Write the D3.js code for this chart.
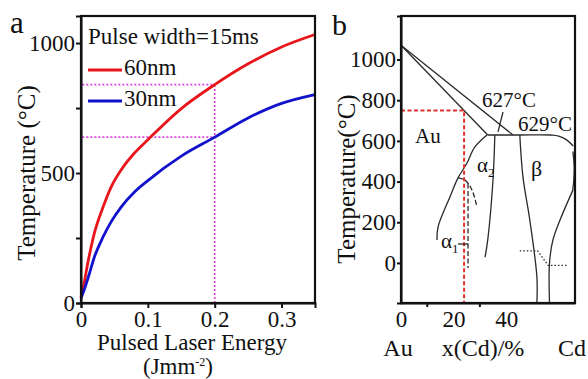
<!DOCTYPE html>
<html>
<head>
<meta charset="utf-8">
<script src="https://cdn.jsdelivr.net/npm/d3@7"></script>
<style>
  body { margin: 0; background: #fff; }
  svg text { font-family: "Liberation Serif", "Times New Roman", serif; fill: #111; }
  .axis path, .axis line { stroke: #111; stroke-width: 2; fill: none; }
  .frame { fill: none; stroke: #111; stroke-width: 2.2; }
  .phase { fill: none; stroke: #2a2a2a; stroke-width: 1.3; }
</style>
</head>
<body>
<svg id="chart" width="588" height="379"></svg>
<script>
// ---- panel a data: calculated temperature vs laser energy
const energy  = [0, 0.003, 0.011, 0.02, 0.033, 0.045, 0.06, 0.08, 0.1, 0.15, 0.2, 0.25, 0.3, 0.35];
const temp60  = [22, 55, 165, 269, 369, 446, 512, 577, 628, 748, 840, 920, 985, 1033];
const temp30  = [18, 38, 100, 177, 254, 312, 369, 427, 471, 565, 638, 712, 768, 802];
const seriesNames = ["60nm", "30nm"];
const markEnergy = 0.2;
const energyTicks = [0, 0.1, 0.2, 0.3];
const tempTicksA = [0, 250, 500, 750, 1000];

// ---- panel b data: Au-Cd phase diagram lines, [x(Cd) %, T °C]
const liquidus   = [[0, 1070], [42.6, 629]];
const solidus    = [[0, 1070], [33, 629]];
const plateau    = [[33, 629], [45, 629], [57, 629], [60, 624], [63, 605], [65.5, 575]];
const rightEdge  = [[65.4, 548], [65.9, 470], [65.7, 400], [65.3, 355]];
const auBoundary = [[32.7, 629], [28.1, 570], [25.1, 491], [21.7, 418], [18.6, 324], [14.1, 177], [13.7, 113]];
const alpha2Beta = [[35.7, 629], [35, 408], [33, 113], [32, 29]];
const betaLeft   = [[45.2, 629], [46.4, 423], [49, 211], [51.7, -69], [51.7, -197]];
const betaRight  = [[56.5, -197], [56.5, 0], [57.8, 113], [60.5, 211], [65.4, 358]];
const alpha1Curve = [[21.7, 418], [24.3, 408], [27, 359], [28.9, 275]];
const alpha1Line  = [[25.5, 390], [25.5, -25]];
const transition  = [[45.2, 59], [52, 59], [56, -12], [63, -12]];
const leader627   = [[38.8, 742], [36.9, 644]];
const markComp = 24;
const markTemp = 750;
const compTicks = [0, 20, 40];
const compMinor = [10, 30];
const tempTicksB = [0, 200, 400, 600, 800, 1000];

const serif = "'Liberation Serif', 'Times New Roman', serif";
const svg = d3.select("#chart");

// d3 axes put a sans-serif font on their group, undo it
function serifAxis(g, size) {
  g.attr("font-family", null).attr("font-size", null);
  g.selectAll("text")
    .style("font-family", serif)
    .style("font-size", size + "px")
    .style("fill", "#111");
}

// =================== panel a ===================
const xA = d3.scaleLinear().domain([0, 0.35]).range([81, 315]);
const yA = d3.scaleLinear().domain([0, 1104]).range([303, 16]);

const lineA = d3.line()
  .x(d => xA(d[0]))
  .y(d => yA(d[1]))
  .curve(d3.curveMonotoneX);

// dotted guide lines at 0.2 J/mm2
const iMark = energy.indexOf(markEnergy);
const guide = svg.append("g")
  .attr("fill", "none")
  .attr("stroke", "#e040e0")
  .attr("stroke-width", 1.6)
  .attr("stroke-dasharray", "2,2");
[temp60[iMark], temp30[iMark]].forEach(t => {
  guide.append("line")
    .attr("x1", xA(0.002)).attr("x2", xA(markEnergy))
    .attr("y1", yA(t)).attr("y2", yA(t));
});
guide.append("line")
  .attr("x1", xA(markEnergy)).attr("x2", xA(markEnergy))
  .attr("y1", yA(0)).attr("y2", yA(temp60[iMark]));

const colors = ["#e8161b", "#1212cc"];
[temp60, temp30].forEach((vals, k) => {
  svg.append("path")
    .attr("d", lineA(energy.map((e, i) => [e, vals[i]])))
    .attr("fill", "none")
    .attr("stroke", colors[k])
    .attr("stroke-width", 2.8);
});

svg.append("rect").attr("class", "frame")
  .attr("x", 81).attr("y", 16).attr("width", 315 - 81).attr("height", 303 - 16);

svg.append("g").attr("class", "axis")
  .attr("transform", "translate(81,0)")
  .call(d3.axisLeft(yA).tickValues(tempTicksA).tickSize(5).tickPadding(1)
    .tickFormat(d => d % 500 === 0 ? d : ""))
  .call(serifAxis, 23);

svg.append("g").attr("class", "axis")
  .attr("transform", "translate(0,303)")
  .call(d3.axisBottom(xA).tickValues(energyTicks).tickSize(5)
    .tickFormat(d => d === 0 ? "0" : d3.format(".1f")(d)))
  .call(serifAxis, 23);

// legend
svg.append("text").attr("x", 88).attr("y", 44)
  .style("font-size", "23px").text("Pulse width=15ms");
seriesNames.forEach((name, k) => {
  const ly = 70 + k * 31;
  svg.append("line")
    .attr("x1", 88).attr("x2", 122).attr("y1", ly).attr("y2", ly)
    .attr("stroke", colors[k]).attr("stroke-width", 2.8);
  svg.append("text").attr("x", 124).attr("y", ly + 5)
    .style("font-size", "23px").text(name);
});

// titles
svg.append("text").attr("x", 192).attr("y", 350)
  .attr("text-anchor", "middle").style("font-size", "23px")
  .text("Pulsed Laser Energy");
const unit = svg.append("text").attr("x", 178).attr("y", 374)
  .attr("text-anchor", "middle").style("font-size", "23px");
unit.append("tspan").text("(Jmm");
unit.append("tspan").attr("dy", -8).style("font-size", "12px").text("-2");
unit.append("tspan").attr("dy", 8).text(")");

svg.append("text")
  .attr("transform", "translate(35,173) rotate(-90)")
  .attr("text-anchor", "middle").style("font-size", "25px")
  .text("Temperature (°C)");

svg.append("text").attr("x", 10).attr("y", 33)
  .style("font-size", "31px").text("a");

// =================== panel b ===================
const xB = d3.scaleLinear().domain([0, 66.2]).range([401, 575]);
const yB = d3.scaleLinear().domain([-197, 1214]).range([303, 16]);

const lineB = d3.line()
  .x(d => xB(d[0]))
  .y(d => yB(d[1]))
  .curve(d3.curveCatmullRom.alpha(0.5));

[liquidus, solidus, plateau, rightEdge, auBoundary, alpha2Beta, betaLeft, betaRight, leader627]
  .forEach(pts => {
    svg.append("path").attr("class", "phase").attr("d", lineB(pts));
  });

svg.append("path").attr("class", "phase").attr("stroke-dasharray", "5,2.5")
  .attr("d", lineB(alpha1Curve));
svg.append("path").attr("class", "phase").attr("stroke-dasharray", "5,2.5")
  .attr("d", lineB(alpha1Line));
svg.append("path").attr("class", "phase").attr("stroke-dasharray", "1.5,2")
  .attr("d", d3.line().x(d => xB(d[0])).y(d => yB(d[1]))(transition));

// red guide at 750 °C
svg.append("path")
  .attr("d", d3.line().x(d => xB(d[0])).y(d => yB(d[1]))(
    [[0, markTemp], [markComp, markTemp], [markComp, -197]]))
  .attr("fill", "none")
  .attr("stroke", "#e0302a")
  .attr("stroke-width", 2)
  .attr("stroke-dasharray", "4,2.5");

svg.append("rect").attr("class", "frame")
  .attr("x", 401).attr("y", 16).attr("width", 575 - 401).attr("height", 303 - 16);

svg.append("g").attr("class", "axis")
  .attr("transform", "translate(401,0)")
  .call(d3.axisLeft(yB).tickValues(tempTicksB).tickSize(4).tickPadding(1)
    .tickFormat(d3.format("d")))
  .call(serifAxis, 23);

const xAxisB = svg.append("g").attr("class", "axis")
  .attr("transform", "translate(0,303)");
xAxisB.call(d3.axisBottom(xB).tickValues(compTicks).tickSize(0).tickPadding(8))
  .call(serifAxis, 23);
xAxisB.selectAll(".minor").data(compMinor).enter().append("line")
  .attr("x1", d => xB(d)).attr("x2", d => xB(d))
  .attr("y1", 0).attr("y2", 4);

// phase labels
svg.append("text").attr("x", 482).attr("y", 107).style("font-size", "21px").text("627°C");
svg.append("text").attr("x", 518).attr("y", 131).style("font-size", "21px").text("629°C");
svg.append("text").attr("x", 415).attr("y", 143).style("font-size", "21px").text("Au");
svg.append("text").attr("x", 531).attr("y", 176).style("font-size", "22px").text("β");
const a2 = svg.append("text").attr("x", 477).attr("y", 172).style("font-size", "21px");
a2.append("tspan").text("α");
a2.append("tspan").attr("dy", 5).style("font-size", "13px").text("2");
const a1 = svg.append("text").attr("x", 441).attr("y", 248).style("font-size", "21px");
a1.append("tspan").text("α");
a1.append("tspan").attr("dy", 5).style("font-size", "13px").text("1");
svg.append("line").attr("class", "phase")
  .attr("x1", 458).attr("x2", 468).attr("y1", 244).attr("y2", 244);

// bottom labels
svg.append("text").attr("x", 398).attr("y", 356).attr("text-anchor", "middle")
  .style("font-size", "24px").text("Au");
svg.append("text").attr("x", 483).attr("y", 356).attr("text-anchor", "middle")
  .style("font-size", "24px").text("x(Cd)/%");
svg.append("text").attr("x", 572).attr("y", 356).attr("text-anchor", "middle")
  .style("font-size", "24px").text("Cd");

svg.append("text")
  .attr("transform", "translate(355,179) rotate(-90)")
  .attr("text-anchor", "middle").style("font-size", "25px")
  .text("Temperature(°C)");

svg.append("text").attr("x", 332).attr("y", 35)
  .style("font-size", "30px").text("b");
</script>
</body>
</html>
